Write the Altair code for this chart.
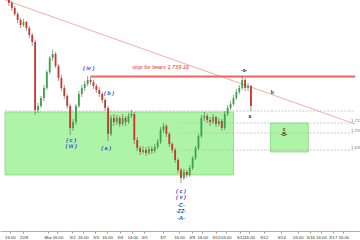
import altair as alt
import pandas as pd

# ---- candle data (3-hour bars, x in hours on a trading-time axis) ----
bar_t = list(range(4, 254, 3))
opens = [1785.0, 1783.2, 1780.2, 1776.6, 1773.0, 1770.0, 1771.8, 1768.2, 1764.0, 1759.8,
         1719.0, 1721.4, 1726.2, 1732.2, 1741.8, 1750.2, 1752.6, 1745.4, 1738.2, 1732.2,
         1727.4, 1721.4, 1708.2, 1711.8, 1721.4, 1728.6, 1732.2, 1734.6, 1737.0, 1735.8,
         1733.4, 1731.0, 1728.6, 1725.0, 1720.2, 1704.6, 1714.2, 1711.8, 1714.2, 1710.6,
         1714.2, 1711.8, 1715.4, 1716.6, 1701.0, 1696.2, 1693.8, 1695.0, 1693.2, 1695.6,
         1694.4, 1696.8, 1699.8, 1707.0, 1709.4, 1704.6, 1698.6, 1695.0, 1689.0, 1683.0,
         1678.2, 1681.8, 1680.0, 1684.2, 1690.2, 1696.2, 1703.4, 1714.2, 1715.4, 1713.0,
         1711.8, 1714.8, 1710.6, 1712.4, 1708.2, 1716.6, 1720.2, 1722.6, 1726.2, 1729.8,
         1732.2, 1737.0, 1732.2, 1733.4]
closes = [1783.2, 1780.2, 1776.6, 1773.0, 1770.0, 1771.8, 1768.2, 1764.0, 1759.8, 1719.0,
          1721.4, 1726.2, 1732.2, 1741.8, 1750.2, 1752.6, 1745.4, 1738.2, 1732.2, 1727.4,
          1721.4, 1708.2, 1711.8, 1721.4, 1728.6, 1732.2, 1734.6, 1737.0, 1735.8, 1733.4,
          1731.0, 1728.6, 1725.0, 1720.2, 1704.6, 1714.2, 1711.8, 1714.2, 1710.6, 1714.2,
          1711.8, 1715.4, 1716.6, 1701.0, 1696.2, 1693.8, 1695.0, 1693.2, 1695.6, 1694.4,
          1696.8, 1699.8, 1707.0, 1709.4, 1704.6, 1698.6, 1695.0, 1689.0, 1683.0, 1678.2,
          1681.8, 1680.0, 1684.2, 1690.2, 1696.2, 1703.4, 1714.2, 1715.4, 1713.0, 1711.8,
          1714.8, 1710.6, 1712.4, 1708.2, 1716.6, 1720.2, 1722.6, 1726.2, 1729.8, 1732.2,
          1737.0, 1732.2, 1733.4, 1721.4]
highs = [1785.6, 1784.4, 1781.4, 1777.8, 1774.2, 1773.6, 1772.4, 1769.4, 1765.2, 1761.0,
         1723.2, 1727.4, 1734.0, 1743.0, 1751.4, 1755.0, 1753.8, 1746.6, 1740.0, 1734.0,
         1728.6, 1722.6, 1713.6, 1722.6, 1730.4, 1734.0, 1736.4, 1739.4, 1738.8, 1737.0,
         1734.6, 1732.8, 1729.8, 1726.2, 1721.4, 1716.0, 1716.6, 1716.0, 1715.4, 1716.6,
         1715.4, 1717.2, 1719.0, 1717.8, 1702.8, 1697.4, 1697.4, 1696.8, 1697.4, 1697.4,
         1698.6, 1701.6, 1708.8, 1711.2, 1710.6, 1705.8, 1699.8, 1696.2, 1690.2, 1684.2,
         1683.6, 1683.0, 1686.0, 1691.4, 1697.4, 1704.6, 1716.0, 1717.8, 1716.6, 1714.8,
         1716.6, 1715.4, 1714.2, 1713.6, 1718.4, 1722.0, 1724.4, 1728.0, 1731.6, 1734.0,
         1739.4, 1738.2, 1735.2, 1734.0]
lows = [1781.4, 1778.4, 1775.4, 1771.2, 1768.2, 1768.8, 1766.4, 1762.2, 1757.4, 1716.0,
        1717.2, 1720.2, 1724.4, 1731.0, 1740.6, 1748.4, 1744.2, 1736.4, 1730.4, 1725.6,
        1719.6, 1704.0, 1706.4, 1710.0, 1720.2, 1726.8, 1730.4, 1733.4, 1734.0, 1731.6,
        1729.2, 1726.8, 1723.2, 1718.4, 1700.4, 1703.4, 1709.4, 1710.0, 1708.8, 1709.4,
        1709.4, 1710.6, 1714.2, 1698.6, 1694.4, 1692.0, 1692.6, 1691.4, 1692.0, 1692.6,
        1693.2, 1695.6, 1698.6, 1705.2, 1702.8, 1696.8, 1693.2, 1687.2, 1681.2, 1675.2,
        1677.0, 1678.2, 1678.8, 1683.0, 1689.0, 1695.0, 1702.2, 1712.4, 1711.2, 1709.4,
        1710.6, 1708.8, 1709.4, 1706.4, 1707.0, 1715.4, 1719.0, 1721.4, 1725.0, 1728.6,
        1731.0, 1730.4, 1730.4, 1718.4]

# ---- x axis ticks ----
tick_pos = [5, 19, 44, 54, 69, 80, 93, 105, 118, 131, 143, 162, 179, 192, 203, 217, 227,
            242, 251, 266, 284, 301, 314, 325, 337, 348]
tick_labels = ["16:00", "2/28", "Mar", "16:00", "3/2", "16:00", "3/3", "16:00", "3/4",
               "16:00", "3/5", "3/7", "16:00", "3/9", "16:00", "3/10", "16:00", "3/11",
               "16:00", "3/12", "3/14", "16:00", "3/16", "16:00", "3/17", "16:00"]

# ---- zones ----
zone_t1 = [0, 273]
zone_t2 = [235, 312]
zone_p1 = [1680.0, 1693.8]
zone_p2 = [1717.8, 1711.2]

# ---- horizontal dashed levels ----
lvl_p = [1718.4, 1711.2, 1705.2, 1695.0]
lvl_t1 = [0, 180, 180, 180]
lvl_t2 = [360, 360, 360, 360]
lvl_text = ["", "1,711.20", "1,705.20", "1,695.00"]

# ---- stop line & trendline ----
stop_price = 1739.16
stop_t = [88, 360]
trend_t = [0, 360]
trend_p = [1785.0, 1710.6]

# ---- wave labels ----
wave_text = ["( iv )", "( b )", "( c )", "( iii )", "( a )", "( c )", "( v )", "-C-", "-ZZ-", "-A-"]
wave_t = [86, 107, 68, 68, 104, 181, 181, 181, 181, 181]
wave_p = [1744.2, 1729.2, 1701.0, 1697.4, 1696.2, 1670.4, 1666.8, 1662.0, 1658.4, 1654.2]

minor_text = ["-a-", "a", "b", "c", "-B-"]
minor_t = [246, 252, 275, 287, 287]
minor_p = [1743.0, 1715.4, 1729.8, 1707.6, 1704.6]

candles = pd.DataFrame({"t": bar_t, "open": opens, "close": closes, "high": highs, "low": lows})
zones = pd.DataFrame({"t1": zone_t1, "t2": zone_t2, "p1": zone_p1, "p2": zone_p2})
levels = pd.DataFrame({"t1": lvl_t1, "t2": lvl_t2, "p": lvl_p, "txt": lvl_text})
stop = pd.DataFrame({"t1": [stop_t[0]], "t2": [stop_t[1]], "p": [stop_price],
                     "txt": ["stop for bears 1,739.16"]})
trend = pd.DataFrame({"t": trend_t, "p": trend_p})
waves = pd.DataFrame({"t": wave_t, "p": wave_p, "txt": wave_text})
minors = pd.DataFrame({"t": minor_t, "p": minor_p, "txt": minor_text})

xs = alt.Scale(domain=[0, 360], nice=False, zero=False)
ys = alt.Scale(domain=[1646.4, 1785.0], nice=False, zero=False)

label_map = "{" + ",".join(f"'{t}':'{l}'" for t, l in zip(tick_pos, tick_labels)) + "}"
xaxis = alt.Axis(values=tick_pos, labelExpr=f"{label_map}[datum.value]", title=None,
                 grid=False, labelFontSize=4.3, labelColor="#333", labelOverlap=False,
                 labelFlush=False, labelPadding=2, tickSize=2, tickColor="#999",
                 domainColor="#999", domainWidth=0.8, labelFont="Liberation Sans")

X = lambda f: alt.X(f, type="quantitative", scale=xs, axis=xaxis)
Y = lambda f: alt.Y(f, type="quantitative", scale=ys, axis=None)

zone_layer = alt.Chart(zones).mark_rect(fill="#aef4a6", stroke="#80d07a", strokeWidth=0.7).encode(
    x=X("t1"), x2="t2", y=Y("p1"), y2="p2")

level_layer = alt.Chart(levels).mark_rule(color="#b5b5b5", strokeWidth=0.7, strokeDash=[2, 1.5]).encode(
    x=X("t1"), x2="t2", y=Y("p"))

level_text = alt.Chart(levels).mark_text(align="left", baseline="bottom", fontSize=4.3,
                                          color="#777", clip=True, dx=-4).encode(
    x=X("t2"), y=Y("p"), text="txt:N")

trend_layer = alt.Chart(trend).mark_line(color="#f4a3a3", strokeWidth=0.9).encode(
    x=X("t"), y=Y("p"))

stop_layer = alt.Chart(stop).mark_rule(color="#f26464", strokeWidth=2).encode(
    x=X("t1"), x2="t2", y=Y("p"))

stop_text = alt.Chart(stop).mark_text(color="#e8302a", fontSize=5.5, fontStyle="italic",
                                      baseline="bottom", dy=-6, dx=70).encode(
    x=X("t1"), y=Y("p"), text="txt:N")

wick = alt.Chart(candles).mark_rule(color="#555", strokeWidth=0.6).encode(
    x=X("t"), y=Y("low"), y2="high")

body = alt.Chart(candles).mark_bar(size=1.8).encode(
    x=X("t"), y=Y("open"), y2="close",
    color=alt.condition("datum.close >= datum.open", alt.value("#3aa34a"), alt.value("#d2332b")))

wave_layer = alt.Chart(waves).mark_text(color="#2f3fe0", fontSize=5.5, fontStyle="italic",
                                        fontWeight="bold").encode(
    x=X("t"), y=Y("p"), text="txt:N")

minor_layer = alt.Chart(minors).mark_text(color="#333", fontSize=5, fontWeight="bold").encode(
    x=X("t"), y=Y("p"), text="txt:N")

chart = alt.layer(zone_layer, level_layer, level_text, trend_layer, stop_layer, stop_text,
                  wick, body, wave_layer, minor_layer).properties(
    width=360, height=231,
    autosize=alt.AutoSizeParams(type="none"),
    padding={"left": 0, "right": 0, "top": 0, "bottom": 9},
).configure_view(stroke=None)

chart.save("out.html", embed_options={"renderer": "svg", "actions": False})
